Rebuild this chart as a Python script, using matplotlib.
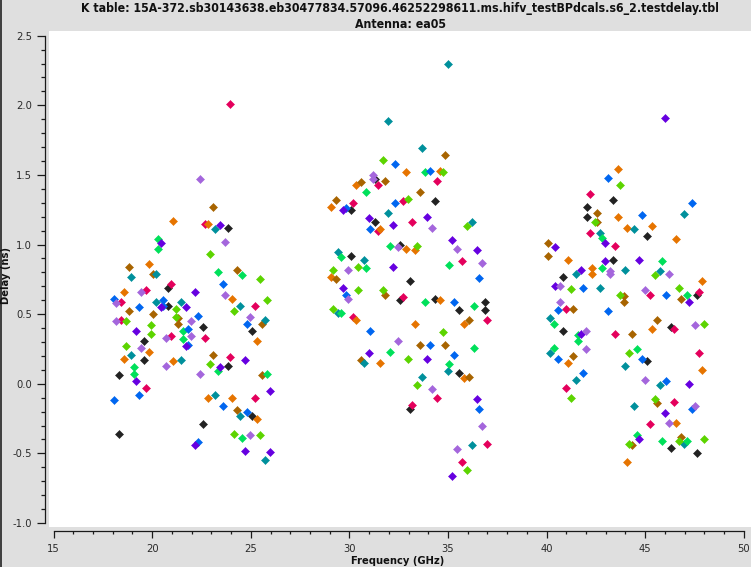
import matplotlib
matplotlib.use('Agg')
import matplotlib.pyplot as plt
from matplotlib.ticker import MultipleLocator, FormatStrFormatter
from matplotlib.lines import Line2D

plt.rcParams['font.family'] = ['DejaVu Sans']
plt.rcParams['font.stretch'] = 'condensed'

title_line1 = "K table: 15A-372.sb30143638.eb30477834.57096.46252298611.ms.hifv_testBPdcals.s6_2.testdelay.tbl"
title_line2 = "Antenna: ea05"
x_label = "Frequency (GHz)"
y_label = "Delay (ns)"

# ---- data: frequency (GHz) and delay (ns), grouped by plot colour ----
black_freq = [20.82, 20.82, 22.60, 25.08, 19.60, 19.60, 23.86, 18.34, 25.08, 22.60, 18.34, 23.86,
              31.32, 34.36, 30.10, 31.32, 32.59, 30.10, 33.09, 32.59, 34.36, 36.90, 35.58, 36.90, 35.58, 33.09,
              43.39, 42.07, 42.07, 45.11, 43.39, 40.85, 47.65, 40.85, 46.33, 45.11, 46.33, 47.65]
black_delay = [0.69, 0.56, 0.41, 0.38, 0.31, 0.17, 0.13, 0.06, -0.23, -0.29, -0.36, 1.12,
               1.47, 1.31, 1.25, 1.16, 1.00, 0.92, 0.74, 0.60, 0.61, 0.59, 0.53, 0.53, 0.08, -0.18,
               1.32, 1.27, 1.20, 1.06, 0.89, 0.77, 0.64, 0.38, 0.41, 0.16, -0.46, -0.50]

magenta_freq = [23.97, 22.70, 19.71, 20.97, 18.44, 25.23, 18.44, 20.97, 22.70, 23.97, 19.71, 25.23,
                31.47, 34.46, 32.74, 30.20, 33.19, 31.47, 35.73, 32.74, 37.00, 30.20, 34.46, 33.19, 37.00, 35.73,
                42.22, 42.22, 43.49, 45.26, 47.75, 41.00, 43.49, 46.48, 41.00, 47.75, 46.48, 45.26]
magenta_delay = [2.01, 1.15, 0.67, 0.72, 0.59, 0.56, 0.46, 0.34, 0.33, 0.19, -0.03, -0.10,
                 1.43, 1.46, 1.31, 1.30, 1.16, 1.10, 0.88, 0.62, 0.46, 0.48, -0.10, -0.15, -0.43, -0.56,
                 1.36, 1.08, 0.99, 0.64, 0.66, 0.54, 0.36, 0.39, -0.03, 0.22, -0.13, -0.29]

orange_freq = [21.08, 22.85, 19.86, 18.59, 24.07, 25.33, 19.86, 18.59, 21.08, 22.85, 24.07, 25.33,
               32.89, 30.36, 29.09, 31.57, 32.89, 33.35, 29.09, 34.61, 34.61, 30.36, 33.35, 35.83, 31.57, 35.83,
               43.64, 43.64, 45.37, 44.10, 46.58, 41.11, 42.32, 42.32, 47.90, 45.37, 41.11, 47.90, 46.58, 44.10]
orange_delay = [1.17, 1.15, 0.86, 0.66, 0.61, 0.31, 0.23, 0.18, 0.16, -0.10, -0.10, -0.25,
                1.52, 1.43, 1.27, 1.11, 0.97, 0.96, 0.77, 1.53, 0.60, 0.46, 0.43, 0.43, 0.15, 0.04,
                1.54, 1.20, 1.13, 1.12, 1.04, 0.89, 0.83, 0.79, 0.74, 0.39, 0.15, 0.10, -0.28, -0.56]

brown_freq = [23.10, 18.84, 20.06, 24.32, 18.84, 20.06, 21.33, 21.33, 25.59, 23.10, 25.59, 24.32,
              34.87, 30.61, 31.83, 33.60, 29.34, 29.34, 31.83, 36.09, 33.60, 34.87, 30.61, 36.09,
              42.58, 42.58, 40.09, 40.09, 43.90, 46.83, 43.90, 41.36, 44.35, 45.62, 41.36, 45.62, 44.35, 46.83]
brown_delay = [1.27, 0.84, 0.79, 0.82, 0.52, 0.50, 0.47, 0.43, 0.43, 0.21, 0.06, -0.19,
               1.64, 1.45, 1.46, 1.38, 1.32, 0.75, 0.64, 0.46, 0.28, 0.28, 0.17, 0.05,
               1.23, 1.16, 1.01, 0.92, 0.63, 0.61, 0.59, 0.54, 0.36, 0.46, 0.20, -0.14, -0.44, -0.38]

teal_freq = [23.20, 20.21, 18.95, 20.21, 21.48, 24.47, 25.74, 18.95, 21.48, 23.20, 24.47, 25.74,
             35.00, 31.98, 33.70, 31.98, 36.24, 29.44, 30.76, 29.44, 30.76, 35.02, 33.70, 36.24,
             46.99, 44.45, 42.73, 41.51, 44.00, 45.77, 42.73, 40.19, 40.19, 41.51, 44.00, 45.77, 44.45, 46.99]
teal_delay = [1.11, 0.79, 0.77, 0.59, 0.59, 0.56, 0.46, 0.21, 0.17, -0.08, -0.23, -0.55,
              2.30, 1.89, 1.69, 1.23, 1.16, 0.95, 0.89, 0.51, 0.15, 0.09, 0.05, -0.44,
              1.22, 1.11, 1.08, 0.79, 0.82, 0.81, 0.69, 0.47, 0.22, 0.03, 0.13, -0.01, -0.16, -0.43]

green_freq = [20.31, 20.31, 23.36, 24.57, 21.58, 21.58, 23.36, 19.10, 19.10, 25.84, 24.57,
              33.85, 30.86, 32.08, 29.59, 30.86, 35.07, 33.85, 36.34, 29.59, 36.34, 32.08, 35.07,
              42.83, 45.87, 42.83, 47.14, 40.35, 41.61, 41.61, 40.35, 44.60, 44.60, 45.87, 47.14]
green_delay = [1.04, 0.97, 0.80, 0.78, 0.38, 0.32, 0.09, 0.12, 0.07, 0.07, -0.39,
               1.52, 1.38, 0.99, 0.91, 0.83, 0.85, 0.59, 0.56, 0.51, 0.26, 0.23, 0.14,
               1.05, 0.88, 0.83, 0.64, 0.43, 0.35, 0.31, 0.26, 0.25, -0.37, -0.41, -0.41]

lime_freq = [22.95, 25.49, 25.84, 21.23, 24.17, 18.69, 21.23, 19.96, 19.96, 18.69, 22.95, 24.17, 25.49,
             31.72, 34.77, 32.99, 35.98, 33.45, 29.19, 30.46, 30.46, 31.72, 29.19, 34.77, 32.99, 33.45, 35.98,
             43.74, 42.47, 45.52, 41.26, 43.74, 46.73, 48.00, 41.26, 44.20, 45.52, 44.20, 46.73, 48.00]
lime_delay = [0.93, 0.75, 0.60, 0.54, 0.52, 0.45, 0.48, 0.42, 0.36, 0.27, 0.14, -0.36, -0.37,
              1.61, 1.52, 1.33, 1.13, 0.99, 0.82, 0.84, 0.67, 0.67, 0.54, 0.37, 0.18, -0.01, -0.62,
              1.43, 1.16, 0.78, 0.68, 0.64, 0.69, 0.43, -0.10, 0.22, -0.11, -0.43, -0.41, -0.40]

blue_freq = [23.61, 18.08, 19.35, 20.57, 20.57, 22.34, 24.83, 21.84, 21.84, 19.35, 18.08, 23.61, 24.83, 22.34,
             32.33, 34.11, 32.33, 29.85, 31.06, 36.59, 29.85, 35.32, 31.06, 34.11, 35.32, 36.59,
             43.13, 44.86, 47.39, 41.87, 46.07, 40.60, 43.13, 40.60, 41.87, 44.86, 46.07, 47.39]
blue_delay = [0.72, 0.61, 0.55, 0.60, 0.56, 0.49, 0.43, 0.39, 0.28, -0.08, -0.12, -0.16, -0.20, -0.42,
              1.58, 1.53, 1.30, 1.26, 1.11, 0.76, 0.64, 0.59, 0.38, 0.28, 0.21, -0.18,
              1.48, 1.21, 1.30, 0.69, 0.64, 0.53, 0.52, 0.18, 0.08, 0.18, 0.02, -0.18]

purple_freq = [23.46, 20.47, 22.19, 20.47, 21.73, 19.20, 21.73, 24.73, 23.46, 19.20, 25.99, 22.19, 24.73, 25.99,
               29.70, 31.01, 33.96, 32.23, 35.22, 36.49, 32.23, 29.70, 31.01, 33.96, 36.49, 35.22,
               46.02, 42.98, 40.45, 42.98, 44.71, 41.76, 40.45, 47.24, 41.76, 47.24, 46.02, 44.71]
purple_delay = [1.14, 1.01, 0.66, 0.55, 0.55, 0.38, 0.27, 0.17, 0.12, 0.02, -0.05, -0.44, -0.48, -0.49,
                1.25, 1.19, 1.20, 1.14, 1.03, 0.96, 0.84, 0.69, 0.22, 0.18, -0.11, -0.66,
                1.91, 1.01, 0.98, 0.88, 0.89, 0.82, 0.70, 0.59, 0.36, 0.00, -0.21, -0.40]

lavender_freq = [22.44, 23.71, 19.45, 23.71, 18.18, 18.18, 21.99, 24.98, 20.72, 21.99, 19.45, 20.72, 22.44, 24.98,
                 31.22, 31.22, 34.21, 35.48, 32.48, 29.95, 36.74, 29.95, 32.48, 34.21, 36.74, 35.48,
                 43.24, 43.24, 46.23, 40.70, 45.01, 40.70, 42.02, 47.50, 42.02, 45.01, 47.50, 46.23]
lavender_delay = [1.47, 1.02, 0.66, 0.64, 0.58, 0.45, 0.45, 0.48, 0.33, 0.34, 0.26, 0.13, 0.07, -0.37,
                  1.50, 1.47, 1.12, 0.97, 0.98, 0.82, 0.87, 0.61, 0.31, -0.04, -0.30, -0.47,
                  0.81, 0.79, 0.79, 0.70, 0.67, 0.59, 0.38, 0.42, 0.25, 0.03, -0.16, -0.28]

series = [
    (black_freq, black_delay, '#222222'),
    (magenta_freq, magenta_delay, '#e4005c'),
    (orange_freq, orange_delay, '#e67400'),
    (brown_freq, brown_delay, '#a86400'),
    (teal_freq, teal_delay, '#00909c'),
    (green_freq, green_delay, '#00e05a'),
    (lime_freq, lime_delay, '#5cd400'),
    (blue_freq, blue_delay, '#0066f0'),
    (purple_freq, purple_delay, '#6600e0'),
    (lavender_freq, lavender_delay, '#a466dc'),
]

W, H = 751, 567
fig = plt.figure(figsize=(W / 100, H / 100), dpi=100, facecolor='#dfdfdf')
ax = fig.add_axes([49 / W, (H - 527) / H, 702 / W, 496 / H])
ax.set_facecolor('white')

for fx, dy, col in series:
    ax.plot(fx, dy, linestyle='none', marker='D', markersize=3.7,
            markerfacecolor=col, markeredgecolor=col, markeredgewidth=0.4)

ax.set_xlim(14.767, 50.365)
ax.set_ylim(-1.029, 2.534)

for s in ('top', 'right'):
    ax.spines[s].set_visible(False)
ax.spines['left'].set_position(('outward', 2.9))
ax.spines['bottom'].set_position(('outward', 2.7))
ax.spines['left'].set_bounds(-1.0, 2.5)
ax.spines['bottom'].set_bounds(15, 50)
for s in ('left', 'bottom'):
    ax.spines[s].set_color('#1a1a1a')
    ax.spines[s].set_linewidth(0.9)

ax.xaxis.set_major_locator(MultipleLocator(5))
ax.xaxis.set_minor_locator(MultipleLocator(1))
ax.yaxis.set_major_locator(MultipleLocator(0.5))
ax.yaxis.set_minor_locator(MultipleLocator(0.1))
ax.yaxis.set_major_formatter(FormatStrFormatter('%.1f'))
ax.xaxis.set_major_formatter(FormatStrFormatter('%d'))

ax.tick_params(axis='y', which='major', direction='out', length=5.8, width=0.9,
               color='#1a1a1a', labelsize=8, labelcolor='#2a2a2a', pad=3.5)
ax.tick_params(axis='y', which='minor', direction='out', length=3.0, width=0.9, color='#1a1a1a')
ax.tick_params(axis='x', which='major', direction='out', length=4.8, width=0.9,
               color='#1a1a1a', labelsize=8, labelcolor='#2a2a2a', pad=4.5)
ax.tick_params(axis='x', which='minor', direction='out', length=2.0, width=0.9, color='#1a1a1a')

fig.text(400 / W, 1 - 8.5 / H, title_line1, ha='center', va='center',
         fontsize=8.8, fontweight='bold', color='#111111')
fig.text(400 / W, 1 - 24.5 / H, title_line2, ha='center', va='center',
         fontsize=8.8, fontweight='bold', color='#111111')
fig.text(398 / W, 1 - 561 / H, x_label, ha='center', va='center',
         fontsize=8, fontweight='bold', color='#111111')
fig.text(6.5 / W, 1 - 276 / H, y_label, ha='center', va='center', rotation=90,
         fontsize=8, fontweight='bold', color='#111111')

fig.add_artist(Line2D([0.7 / W, 0.7 / W], [0, 1], transform=fig.transFigure,
                      color='#222222', linewidth=1.2))

fig.savefig('out.png', dpi=100, facecolor=fig.get_facecolor())
